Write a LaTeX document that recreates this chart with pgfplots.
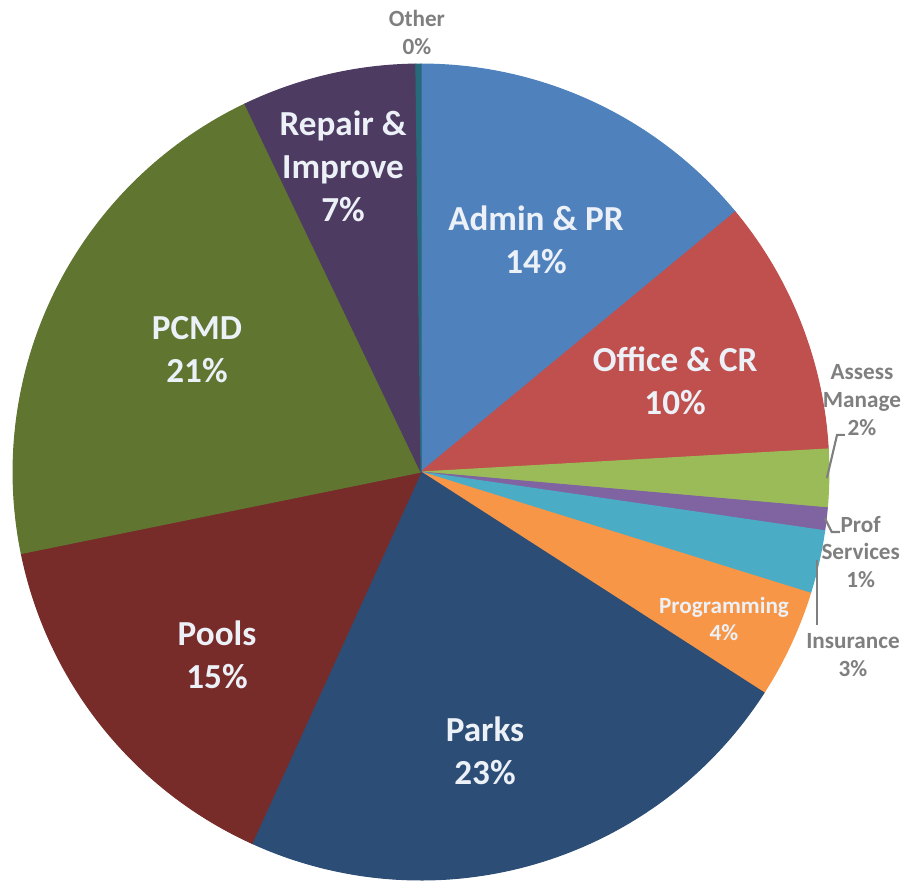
\documentclass[border=0pt]{standalone}
\usepackage{pgfplots}
\usepackage{pgfplotstable}
\pgfplotsset{compat=1.18}
\usepackage{fontspec}
\setmainfont{Carlito}

\definecolor{c0}{HTML}{4F81BD}
\definecolor{c1}{HTML}{C0504D}
\definecolor{c2}{HTML}{9BBB59}
\definecolor{c3}{HTML}{8064A2}
\definecolor{c4}{HTML}{4BACC6}
\definecolor{c5}{HTML}{F79646}
\definecolor{c6}{HTML}{2C4D75}
\definecolor{c7}{HTML}{772C2A}
\definecolor{c8}{HTML}{5F7530}
\definecolor{c9}{HTML}{4D3B62}
\definecolor{c10}{HTML}{276A7C}
\definecolor{lbl}{RGB}{236,240,247}
\definecolor{outl}{HTML}{7F7F7F}

% share of each category, percent, clockwise from 12 o'clock
\pgfplotstableread{
name val
Admin 14.0
Office 10.1
Assess 2.3
Prof 0.9
Insurance 2.5
Programming 4.3
Parks 22.7
Pools 15.0
PCMD 21.1
Repair 6.9
Other 0.2
}\piedata

\begin{document}
\begin{tikzpicture}
\begin{axis}[
  scale only axis,
  width=9.06cm, height=8.80cm,
  xmin=-1.032, xmax=1.189, ymin=-1.0, ymax=1.157,
  hide axis,
  clip=false,
]
\pgfmathsetmacro\cum{0}
\pgfplotsforeachungrouped \i in {0,...,10}{
  \pgfplotstablegetelem{\i}{val}\of\piedata
  \pgfmathsetmacro\a{90-3.6*\cum}
  \pgfmathsetmacro\cum{\cum+\pgfplotsretval}
  \pgfmathsetmacro\b{90-3.6*\cum}
  \edef\temp{\noexpand\addplot[fill=c\i, draw=c\i, line width=0.3pt, domain=\b:\a, samples=90] ({cos(x)},{sin(x)}) -- (axis cs:0,0) -- cycle;}
  \temp
}
% leader lines
\addplot[outl, line width=0.6pt] coordinates {(0.995,-0.015) (1.020,0.091) (1.039,0.091)};
\addplot[outl, line width=0.6pt] coordinates {(0.990,-0.113) (1.007,-0.147) (1.027,-0.147)};
\addplot[outl, line width=0.6pt] coordinates {(0.971,-0.216) (0.971,-0.375)};

\tikzset{big/.style={font=\fontsize{10}{12.2}\selectfont\bfseries, text=lbl, align=center},
         small/.style={font=\fontsize{6.6}{7.9}\selectfont\bfseries, text=outl, align=center}}
\node[big] at (axis cs:0.282,0.570) {Admin \& PR\\14\%};
\node[big] at (axis cs:0.623,0.224) {Office \& CR\\10\%};
\node[big] at (axis cs:-0.549,0.300) {PCMD\\21\%};
\node[big] at (axis cs:-0.191,0.750) {Repair \&\\Improve\\7\%};
\node[big] at (axis cs:-0.500,-0.447) {Pools\\15\%};
\node[big] at (axis cs:0.157,-0.683) {Parks\\23\%};
\node[small, text=lbl] at (axis cs:0.743,-0.360) {Programming\\4\%};
\node[small] at (axis cs:-0.010,1.077) {Other\\0\%};
\node[small] at (axis cs:1.081,0.176) {Assess\\Manage\\2\%};
\node[small] at (axis cs:1.078,-0.196) {Prof\\Services\\1\%};
\node[small] at (axis cs:1.059,-0.449) {Insurance\\3\%};
\end{axis}
\pgfresetboundingbox
\useasboundingbox (current axis.south west) rectangle (current axis.north east);
\end{tikzpicture}
\end{document}
